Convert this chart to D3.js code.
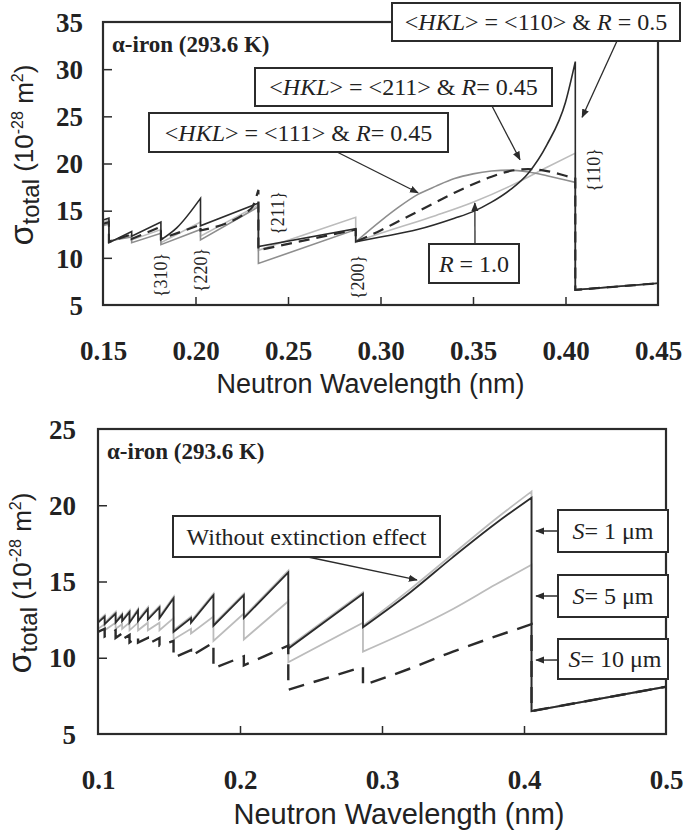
<!DOCTYPE html>
<html>
<head>
<meta charset="utf-8">
<script src="https://cdn.jsdelivr.net/npm/d3@7"></script>
<style>
body{margin:0;background:#fff;}
svg{display:block;}
</style>
</head>
<body>
<svg id="fig" width="685" height="833"></svg>
<script>
// ---------- data ----------
// top panel: texture effect, alpha-iron 293.6 K
const topXTicks = [0.15,0.20,0.25,0.30,0.35,0.40,0.45];
const topYTicks = [5,10,15,20,25,30,35];

// each series = list of segments between Bragg edges, [wavelength nm, sigma]
const texR10 = [
	[[0.15,13.8],[0.1532,14.0]],
	[[0.1532,11.7],[0.1655,12.4]],
	[[0.1655,11.9],[0.1813,13.0]],
	[[0.1813,11.6],[0.2027,13.8]],
	[[0.2027,12.3],[0.234,15.6]],
	[[0.234,10.8],[0.2866,14.3]],
	[[0.2866,11.7],[0.30,12.6],[0.33,14.5],[0.35,15.9],[0.37,17.6],[0.39,19.6],[0.4053,21.1]],
	[[0.4053,6.6],[0.45,7.3]]
];
const tex111 = [
	[[0.15,13.4],[0.1532,13.6]],
	[[0.1532,11.8],[0.1655,12.2]],
	[[0.1655,11.6],[0.1813,12.6]],
	[[0.1813,11.4],[0.2027,13.0]],
	[[0.2027,11.9],[0.234,15.4]],
	[[0.234,9.4],[0.2866,13.0]],
	[[0.2866,11.7],[0.30,13.9],[0.31,15.4],[0.32,16.7],[0.33,17.6],[0.34,18.4],[0.35,18.9],[0.36,19.2],[0.37,19.3],[0.38,19.1],[0.39,18.7],[0.4053,18.0]],
	[[0.4053,6.6],[0.45,7.3]]
];
const tex211 = [
	[[0.15,13.6],[0.1532,13.8]],
	[[0.1532,11.7],[0.1655,12.5]],
	[[0.1655,12.0],[0.1813,13.3]],
	[[0.1813,12.0],[0.2027,13.5]],
	[[0.2027,12.9],[0.23,15.2],[0.234,17.2]],
	[[0.234,10.8],[0.2866,13.0]],
	[[0.2866,11.7],[0.30,12.9],[0.31,13.9],[0.32,14.9],[0.33,15.9],[0.34,16.9],[0.35,17.8],[0.36,18.6],[0.37,19.2],[0.38,19.4],[0.39,19.2],[0.40,18.7],[0.4053,18.4]],
	[[0.4053,6.6],[0.45,7.3]]
];
const tex110 = [
	[[0.15,14.0],[0.1532,14.2]],
	[[0.1532,11.6],[0.1655,12.8]],
	[[0.1655,12.3],[0.1813,13.8]],
	[[0.1813,11.9],[0.19,13.2],[0.2027,16.3]],
	[[0.2027,13.4],[0.234,15.8]],
	[[0.234,11.2],[0.2866,13.1]],
	[[0.2866,11.7],[0.30,12.2],[0.32,13.0],[0.34,14.2],[0.35,14.9],[0.36,15.9],[0.37,17.2],[0.38,19.0],[0.39,22.0],[0.40,26.5],[0.4053,30.8]],
	[[0.4053,6.6],[0.45,7.3]]
];
const edgeLabels = ['{310}','{220}','{211}','{200}','{110}'];
const edgeLambda = [0.1813,0.2027,0.234,0.2866,0.4053];

// bottom panel: extinction effect
const botXTicks = [0.1,0.2,0.3,0.4,0.5];
const botYTicks = [5,10,15,20,25];

const noExt = [
	[[0.1,12.3],[0.1047,12.7]],[[0.1047,12.2],[0.1124,12.9]],[[0.1124,12.3],[0.117,12.8]],
	[[0.117,12.4],[0.1222,13.0]],[[0.1222,12.3],[0.1282,13.1]],[[0.1282,12.4],[0.1351,13.2]],
	[[0.1351,12.5],[0.1433,13.3]],[[0.1433,12.6],[0.1532,13.9]],[[0.1532,11.7],[0.1655,12.6]],
	[[0.1655,12.3],[0.1813,14.1]],[[0.1813,12.1],[0.2027,14.1]],[[0.2027,12.6],[0.234,15.6]],
	[[0.234,10.6],[0.2866,14.2]],[[0.2866,12.0],[0.32,14.3],[0.35,16.6],[0.38,18.8],[0.4053,20.5]],
	[[0.4053,6.5],[0.5,8.1]]
];
const ext1um = [
	[[0.1,12.4],[0.1047,12.8]],[[0.1047,12.3],[0.1124,13.0]],[[0.1124,12.4],[0.117,12.9]],
	[[0.117,12.5],[0.1222,13.1]],[[0.1222,12.4],[0.1282,13.2]],[[0.1282,12.5],[0.1351,13.3]],
	[[0.1351,12.6],[0.1433,13.4]],[[0.1433,12.7],[0.1532,14.0]],[[0.1532,11.8],[0.1655,12.7]],
	[[0.1655,12.4],[0.1813,14.2]],[[0.1813,12.2],[0.2027,14.2]],[[0.2027,12.7],[0.234,15.7]],
	[[0.234,10.7],[0.2866,14.3]],[[0.2866,12.1],[0.32,14.5],[0.35,16.8],[0.38,19.1],[0.4053,20.9]],
	[[0.4053,6.5],[0.5,8.1]]
];
const ext5um = [
	[[0.1,11.9],[0.1047,12.2]],[[0.1047,11.8],[0.1124,12.3]],[[0.1124,11.9],[0.117,12.2]],
	[[0.117,11.9],[0.1222,12.3]],[[0.1222,11.8],[0.1282,12.3]],[[0.1282,11.8],[0.1351,12.3]],
	[[0.1351,11.8],[0.1433,12.3]],[[0.1433,11.8],[0.1532,12.6]],[[0.1532,11.2],[0.1655,11.9]],
	[[0.1655,11.6],[0.1813,12.7]],[[0.1813,11.1],[0.2027,12.9]],[[0.2027,11.2],[0.234,13.7]],
	[[0.234,9.7],[0.2866,12.3]],[[0.2866,10.4],[0.32,11.8],[0.35,13.2],[0.38,14.8],[0.4053,16.1]],
	[[0.4053,6.5],[0.5,8.1]]
];
const ext10um = [
	[[0.1,11.7],[0.1047,11.9]],[[0.1047,11.4],[0.1124,11.8]],[[0.1124,11.3],[0.117,11.6]],
	[[0.117,11.2],[0.1222,11.5]],[[0.1222,11.0],[0.1282,11.4]],[[0.1282,11.0],[0.1351,11.3]],
	[[0.1351,10.9],[0.1433,11.3]],[[0.1433,10.8],[0.1532,11.1]],[[0.1532,10.0],[0.1655,10.5]],
	[[0.1655,10.1],[0.1813,11.0]],[[0.1813,9.3],[0.2027,10.1]],[[0.2027,9.5],[0.234,10.8]],
	[[0.234,7.9],[0.2866,9.4]],[[0.2866,8.2],[0.32,9.3],[0.35,10.4],[0.38,11.4],[0.4053,12.2]],
	[[0.4053,6.5],[0.5,8.1]]
];

// ---------- styles ----------
const DARK = '#2b2b2b', MID = '#8e8e8e', LIGHT = '#bcbcbc';
const SERIF = '"Liberation Serif","Times New Roman",serif';
const SANS = '"Liberation Sans",Arial,sans-serif';

const svg = d3.select('#fig');

svg.append('defs').append('marker')
	.attr('id','arrow')
	.attr('viewBox','0 0 10 10')
	.attr('refX',9).attr('refY',5)
	.attr('markerWidth',9).attr('markerHeight',9)
	.attr('markerUnits','userSpaceOnUse')
	.attr('orient','auto')
	.append('path')
	.attr('d','M0,1 L10,5 L0,9 Z')
	.style('fill',DARK);

//Build one path from segments, joined by vertical drops at the edges
function seriesPath(segs, line){
	return segs.map(function(s,i){
		const d = line(s);
		return i ? 'L' + d.slice(1) : d;
	}).join('');
}

//Text with _italic_ parts
function richText(sel, str){
	str.split('_').forEach(function(part,i){
		if(part === '') return;
		sel.append('tspan').text(part).style('font-style', i % 2 ? 'italic' : 'normal');
	});
}

function drawPanel(opt){
	const g = svg.append('g');
	const x = d3.scaleLinear().domain(opt.xDomain).range([opt.left, opt.right]);
	const y = d3.scaleLinear().domain(opt.yDomain).range([opt.bottom, opt.top]);

	const clipId = 'clip-' + opt.id;
	g.append('clipPath').attr('id',clipId)
		.append('rect')
		.attr('x',opt.left).attr('y',opt.top)
		.attr('width',opt.right-opt.left).attr('height',opt.bottom-opt.top);

	//Render series
	const line = d3.line()
		.x(function(d){ return x(d[0]) })
		.y(function(d){ return y(d[1]) })
		.curve(d3.curveMonotoneX);

	g.append('g').attr('clip-path','url(#' + clipId + ')')
		.selectAll('path')
		.data(opt.series)
		.enter()
		.append('path')
		.attr('d', function(d){ return seriesPath(d.segs, line) })
		.style('fill','none')
		.style('stroke', function(d){ return d.color })
		.style('stroke-width', function(d){ return d.width })
		.style('stroke-dasharray', function(d){ return d.dash || null });

	//Axes with inward ticks
	const xAxis = d3.axisBottom(x).tickValues(opt.xTicks).tickSize(-8).tickFormat(d3.format(opt.xFmt));
	const yAxis = d3.axisLeft(y).tickValues(opt.yTicks).tickSize(-9).tickFormat(d3.format('d'));

	const gx = g.append('g').attr('transform','translate(0,' + opt.bottom + ')').call(xAxis);
	gx.select('.domain').remove();
	gx.selectAll('line').style('stroke',DARK).style('stroke-width',1.5);
	gx.selectAll('text')
		.attr('y', opt.xLabelY - opt.bottom).attr('dy',0)
		.style('font-family',SERIF).style('font-weight','bold').style('font-size','27px').style('fill','#222');

	const gy = g.append('g').attr('transform','translate(' + opt.left + ',0)').call(yAxis);
	gy.select('.domain').remove();
	gy.selectAll('line').style('stroke',DARK).style('stroke-width',1.5);
	gy.selectAll('text')
		.attr('x', opt.yLabelX - opt.left).attr('dy','0.34em')
		.style('font-family',SERIF).style('font-weight','bold').style('font-size','27px').style('fill','#222');

	//Hide tick marks at the frame corners
	gx.selectAll('.tick').filter(function(d){ return d === opt.xDomain[0] || d === opt.xDomain[1] }).select('line').remove();
	gy.selectAll('.tick').filter(function(d){ return d === opt.yDomain[0] || d === opt.yDomain[1] }).select('line').remove();

	//Frame
	g.append('rect')
		.attr('x',opt.left).attr('y',opt.top)
		.attr('width',opt.right-opt.left).attr('height',opt.bottom-opt.top)
		.style('fill','none').style('stroke',DARK).style('stroke-width',2.2);

	//Axis titles
	g.append('text')
		.attr('x',(opt.left+opt.right)/2 + opt.xTitleDx).attr('y',opt.xTitleY)
		.attr('text-anchor','middle')
		.style('font-family',SANS).style('font-size',opt.xTitleSize + 'px').style('fill','#222')
		.text('Neutron Wavelength (nm)');

	const t = g.append('text')
		.attr('transform','translate(' + opt.yTitleX + ',' + opt.yTitleY + ') rotate(-90)')
		.attr('text-anchor','middle')
		.style('font-family',SANS).style('fill','#222');
	t.append('tspan').text('σ').style('font-size','34px');
	t.append('tspan').text('total').attr('dy',6).style('font-size','24px');
	t.append('tspan').text(' (10').attr('dy',-6).style('font-size','26px');
	t.append('tspan').text('-28').attr('dy',-10).style('font-size','16px');
	t.append('tspan').text(' m').attr('dy',10).style('font-size','26px');
	t.append('tspan').text('2').attr('dy',-10).style('font-size','16px');
	t.append('tspan').text(')').attr('dy',10).style('font-size','26px');

	//Material label
	g.append('text')
		.attr('x',opt.left + 9).attr('y',opt.top + 30)
		.style('font-family',SERIF).style('font-weight','bold').style('font-size','23px').style('fill','#222')
		.text(opt.material);

	//Annotation boxes with arrows
	opt.notes.forEach(function(n){
		g.append('line')
			.attr('x1',n.from[0]).attr('y1',n.from[1])
			.attr('x2',x(n.tip[0])).attr('y2',y(n.tip[1]))
			.attr('marker-end','url(#arrow)')
			.style('stroke',DARK).style('stroke-width',1.3);
		g.append('rect')
			.attr('x',n.box[0]).attr('y',n.box[1]).attr('width',n.box[2]).attr('height',n.box[3])
			.style('fill','#fff').style('stroke',DARK).style('stroke-width',2);
		const tx = g.append('text')
			.attr('x',n.box[0] + n.box[2]/2 + (n.dx || 0)).attr('y',n.box[1] + n.box[3]/2 + 8)
			.attr('text-anchor','middle')
			.style('font-family',SERIF).style('font-size','24px').style('fill','#222');
		richText(tx, n.text);
	});

	return {x:x, y:y, g:g};
}

// ---------- top panel ----------
const topPanel = drawPanel({
	id:'top', left:103, right:658, top:22, bottom:305,
	xDomain:[0.15,0.45], yDomain:[5,35], xTicks:topXTicks, yTicks:topYTicks, xFmt:'.2f',
	xLabelY:360, yLabelX:83, xTitleY:393, xTitleDx:-10, xTitleSize:27, yTitleX:33, yTitleY:155,
	material:'α-iron (293.6 K)',
	series:[
		{segs:texR10, color:LIGHT, width:1.6},
		{segs:tex111, color:MID, width:1.6},
		{segs:tex211, color:DARK, width:2.2, dash:'11,7'},
		{segs:tex110, color:DARK, width:1.6}
	],
	notes:[
		{box:[392,3,288,38], text:'<_HKL_> = <110> & _R_ = 0.5', from:[617,41], tip:[0.409,24.9]},
		{box:[255,68,297,38], text:'<_HKL_> = <211> & _R_= 0.45', from:[492,106], tip:[0.3754,20.4]},
		{box:[149,113,299,39], text:'<_HKL_> = <111> & _R_= 0.45', from:[337,152], tip:[0.3203,16.9]},
		{box:[429,244,90,39], text:'_R_ = 1.0', from:[475,244], tip:[0.351,15.8]}
	]
});

//Bragg edge labels
const edgeDx = [0, 0, 19, 2, 18];
const edgeY = [275, 270, 213, 277, 170];
topPanel.g.selectAll('.edge-label')
	.data(edgeLabels)
	.enter()
	.append('text')
	.attr('class','edge-label')
	.attr('transform', function(d,i){
		return 'translate(' + (topPanel.x(edgeLambda[i]) + edgeDx[i]) + ',' + edgeY[i] + ') rotate(-90)';
	})
	.attr('text-anchor','middle').attr('dy','0.35em')
	.style('font-family',SERIF).style('font-size','18px').style('fill','#222')
	.text(function(d){ return d });

// ---------- bottom panel ----------
drawPanel({
	id:'bot', left:98, right:666, top:429, bottom:734,
	xDomain:[0.1,0.5], yDomain:[5,25], xTicks:botXTicks, yTicks:botYTicks, xFmt:'.1f',
	xLabelY:789, yLabelX:76, xTitleY:824, xTitleDx:17, xTitleSize:29, yTitleX:31, yTitleY:583,
	material:'α-iron  (293.6 K)',
	series:[
		{segs:ext1um, color:LIGHT, width:1.8},
		{segs:ext5um, color:LIGHT, width:1.8},
		{segs:noExt, color:DARK, width:1.8},
		{segs:ext10um, color:DARK, width:2.4, dash:'16,10'}
	],
	notes:[
		{box:[173,516,267,41], text:'Without extinction effect', from:[308,557], tip:[0.3246,15.1]},
		{box:[558,510,110,42], text:'_S_= 1 μm', from:[558,531], tip:[0.4085,18.31]},
		{box:[558,575,110,42], text:'_S_= 5 μm', from:[558,596], tip:[0.4085,14.05]},
		{box:[558,639,110,40], text:'_S_= 10 μm', from:[558,660], tip:[0.4085,9.85], dx:2}
	]
});
</script>
</body>
</html>
